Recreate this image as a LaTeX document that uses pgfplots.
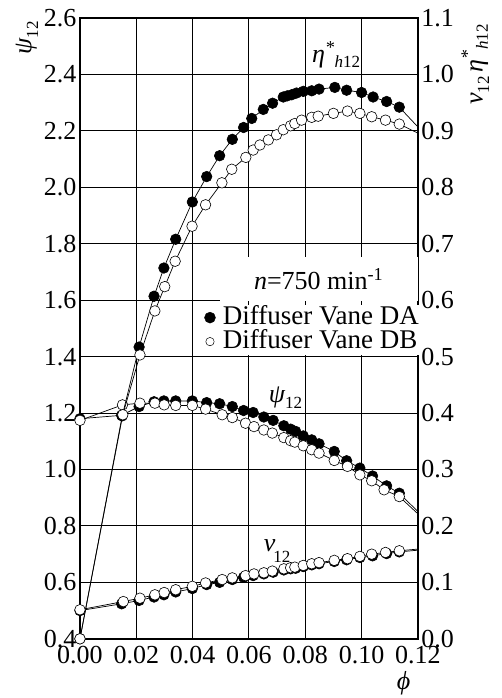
\documentclass[border=0pt]{standalone}
\usepackage{pgfplots}
\pgfplotsset{compat=1.18}
\usepackage{pgfplotstable}
\usepackage{fontspec}
\setmainfont{Liberation Serif}

\newcommand{\bigf}{\fontsize{26}{26}\selectfont}
\newcommand{\legf}{\fontsize{27}{27}\selectfont}
\newcommand{\subf}{\fontsize{17}{17}\selectfont}

% eta*_h12 (right axis units)
\pgfplotstableread{
x y
0      0
0.0150 0.395
0.0210 0.517
0.0263 0.607
0.0298 0.657
0.0340 0.708
0.0399 0.774
0.0450 0.819
0.0496 0.856
0.0541 0.885
0.0581 0.906
0.0610 0.922
0.0651 0.938
0.0684 0.949
0.0722 0.960
0.0736 0.962
0.0752 0.964
0.0769 0.967
0.0793 0.970
0.0823 0.971
0.0849 0.974
0.0905 0.977
0.0947 0.972
0.1000 0.968
0.1041 0.960
0.1089 0.952
0.1134 0.942
}\etaDA
\pgfplotstableread{
x y
0      0
0.0152 0.397
0.0213 0.503
0.0266 0.581
0.0301 0.624
0.0338 0.669
0.0398 0.731
0.0446 0.769
0.0504 0.808
0.0539 0.832
0.0589 0.853
0.0615 0.866
0.0639 0.875
0.0669 0.884
0.0698 0.893
0.0722 0.902
0.0748 0.909
0.0763 0.913
0.0787 0.919
0.0823 0.924
0.0846 0.926
0.0900 0.931
0.0950 0.935
0.0994 0.931
0.1036 0.925
0.1085 0.919
0.1134 0.912
}\etaDB
% psi_12 (left axis)
\pgfplotstableread{
x y
0      1.180
0.0148 1.192
0.0210 1.223
0.0263 1.240
0.0298 1.243
0.0340 1.243
0.0399 1.243
0.0450 1.237
0.0496 1.233
0.0541 1.223
0.0581 1.209
0.0615 1.202
0.0653 1.186
0.0686 1.174
0.0724 1.155
0.0748 1.143
0.0766 1.135
0.0793 1.119
0.0823 1.105
0.0849 1.091
0.0903 1.064
0.0947 1.031
0.0994 1.005
0.1039 0.977
0.1089 0.942
0.1134 0.916
}\psiDA
\pgfplotstableread{
x y
0      1.174
0.0151 1.229
0.0213 1.235
0.0266 1.235
0.0299 1.229
0.0340 1.227
0.0399 1.227
0.0446 1.214
0.0505 1.194
0.0541 1.184
0.0588 1.164
0.0618 1.152
0.0653 1.140
0.0683 1.129
0.0724 1.113
0.0748 1.102
0.0763 1.097
0.0793 1.084
0.0823 1.070
0.0849 1.058
0.0903 1.032
0.0950 1.011
0.0994 0.981
0.1036 0.960
0.1080 0.928
0.1134 0.904
}\psiDB
% nu_12 (right axis units)
\pgfplotstableread{
x y
0      0.050
0.0148 0.062
0.0210 0.068
0.0263 0.074
0.0298 0.078
0.0340 0.083
0.0399 0.089
0.0450 0.096
0.0496 0.100
0.0541 0.105
0.0581 0.109
0.0615 0.112
0.0653 0.115
0.0686 0.118
0.0724 0.122
0.0748 0.124
0.0766 0.125
0.0793 0.128
0.0823 0.131
0.0849 0.133
0.0903 0.137
0.0947 0.140
0.0994 0.144
0.1039 0.147
0.1089 0.151
0.1134 0.154
}\nuDA
\pgfplotstableread{
x y
0      0.0515
0.0154 0.066
0.0213 0.072
0.0266 0.078
0.0299 0.082
0.0340 0.087
0.0399 0.093
0.0446 0.099
0.0505 0.105
0.0541 0.108
0.0588 0.112
0.0618 0.115
0.0653 0.117
0.0683 0.120
0.0724 0.124
0.0748 0.126
0.0763 0.127
0.0793 0.130
0.0823 0.133
0.0849 0.135
0.0903 0.139
0.0950 0.142
0.0994 0.146
0.1036 0.150
0.1085 0.153
0.1134 0.156
}\nuDB

\pgfplotsset{
  curve/.style={black, line width=0.7pt, no marks, forget plot},
  fdot/.style={only marks, mark=*, mark size=5.3pt, mark options={fill=black, draw=black, line width=0.6pt}, forget plot},
  hdot/.style={only marks, mark=*, mark size=5.3pt, mark options={fill=white, draw=black, line width=0.6pt}, forget plot},
}

\begin{document}
\begin{tikzpicture}
\begin{axis}[
  width=338pt, height=621pt, scale only axis,
  xmin=0, xmax=0.12, ymin=0.4, ymax=2.6,
  xtick={0,0.02,0.04,0.06,0.08,0.1,0.12},
  ytick={0.4,0.6,0.8,1.0,1.2,1.4,1.6,1.8,2.0,2.2,2.4,2.6},
  grid=major, grid style={black, line width=0.9pt},
  major tick length=0pt,
  axis line style={line width=1.6pt},
  tick label style={font=\bigf},
  xticklabel style={yshift=-4pt, /pgf/number format/.cd, fixed, fixed zerofill, precision=2, assume math mode=true},
  yticklabel style={/pgf/number format/.cd, fixed, fixed zerofill, precision=1, assume math mode=true},
  clip=false,
]
\coordinate (bl) at (rel axis cs:0,0);
\coordinate (tr) at (rel axis cs:1,1);
\addplot[curve] table {\psiDA};
\addplot[curve] coordinates {(0.1134,0.916) (0.12,0.851)};
\addplot[curve] table {\psiDB};
\addplot[curve] coordinates {(0.1134,0.904) (0.12,0.843)};
\addplot[fdot] table {\psiDA};
\addplot[hdot] table {\psiDB};
\node[font=\bigf, anchor=center] at (axis cs:0.0730,1.255) {\itshape ψ\raisebox{-0.55ex}{\upshape\subf 12}};
\end{axis}
\begin{axis}[
  width=338pt, height=621pt, scale only axis,
  xmin=0, xmax=0.12, ymin=0, ymax=1.1,
  axis x line=none,
  axis y line*=right,
  y axis line style={draw=none},
  ytick={0,0.1,0.2,0.3,0.4,0.5,0.6,0.7,0.8,0.9,1.0,1.1},
  major tick length=0pt,
  tick label style={font=\bigf},
  yticklabel style={/pgf/number format/.cd, fixed, fixed zerofill, precision=1, assume math mode=true},
  clip=false,
  legend style={at={(rel axis cs:1.008,0.5386)}, anchor=north east, fill=white, draw=none,
    font=\legf, row sep=0pt, inner sep=1pt, column sep=7pt,
    nodes={inner sep=0.5pt, text height=18pt, text depth=5pt}},
  legend cell align=left,
]
\addplot[curve] table {\etaDA};
\addplot[curve] coordinates {(0.1134,0.942) (0.12,0.907)};
\addplot[curve] table {\etaDB};
\addplot[curve] coordinates {(0.1134,0.912) (0.12,0.896)};
\addplot[curve] table {\nuDA};
\addplot[curve] coordinates {(0.1134,0.154) (0.12,0.157)};
\addplot[curve] table {\nuDB};
\addplot[curve] coordinates {(0.1134,0.156) (0.12,0.159)};
\addplot[fdot] table {\etaDA};
\addplot[hdot] table {\etaDB};
\addplot[fdot] table {\nuDA};
\addplot[hdot] table {\nuDB};
\node[font=\bigf, anchor=center] at (axis cs:0.0910,1.035) {\itshape η\textsuperscript{*}\raisebox{-0.45ex}{\subf h\upshape 12}};
\node[font=\bigf, anchor=center] at (axis cs:0.0700,0.155) {\itshape ν\hspace{-2pt}\raisebox{-0.9ex}{\upshape\subf 12}};
\node[font=\bigf, fill=white, inner sep=0pt, minimum width=198pt, minimum height=44pt, anchor=east] at (rel axis cs:1.0,0.580) {\itshape n\upshape =750 min\textsuperscript{-1}};
\node[font=\bigf, rotate=90, anchor=center] at (rel axis cs:-0.157,0.968) {\itshape ψ\raisebox{-0.55ex}{\upshape\subf 12}};
\node[font=\bigf, rotate=90, anchor=center] at (rel axis cs:1.170,0.925) {\itshape ν\raisebox{-0.55ex}{\upshape\subf 12}\,η\textsuperscript{*}\raisebox{-0.45ex}{\subf h\upshape 12}};
\node[font=\bigf, anchor=center] at (rel axis cs:0.958,-0.071) {\itshape ϕ};
\addlegendimage{only marks, mark=*, mark size=5.5pt, mark options={fill=black, draw=black}}
\addlegendentry{Diffuser Vane DA}
\addlegendimage{only marks, mark=*, mark size=4.2pt, mark options={fill=white, draw=black, line width=0.5pt}}
\addlegendentry{Diffuser Vane DB}
\end{axis}
\path (bl) ++(-80pt,-59pt);
\path (tr) ++(84pt,18pt);
\end{tikzpicture}
\end{document}
